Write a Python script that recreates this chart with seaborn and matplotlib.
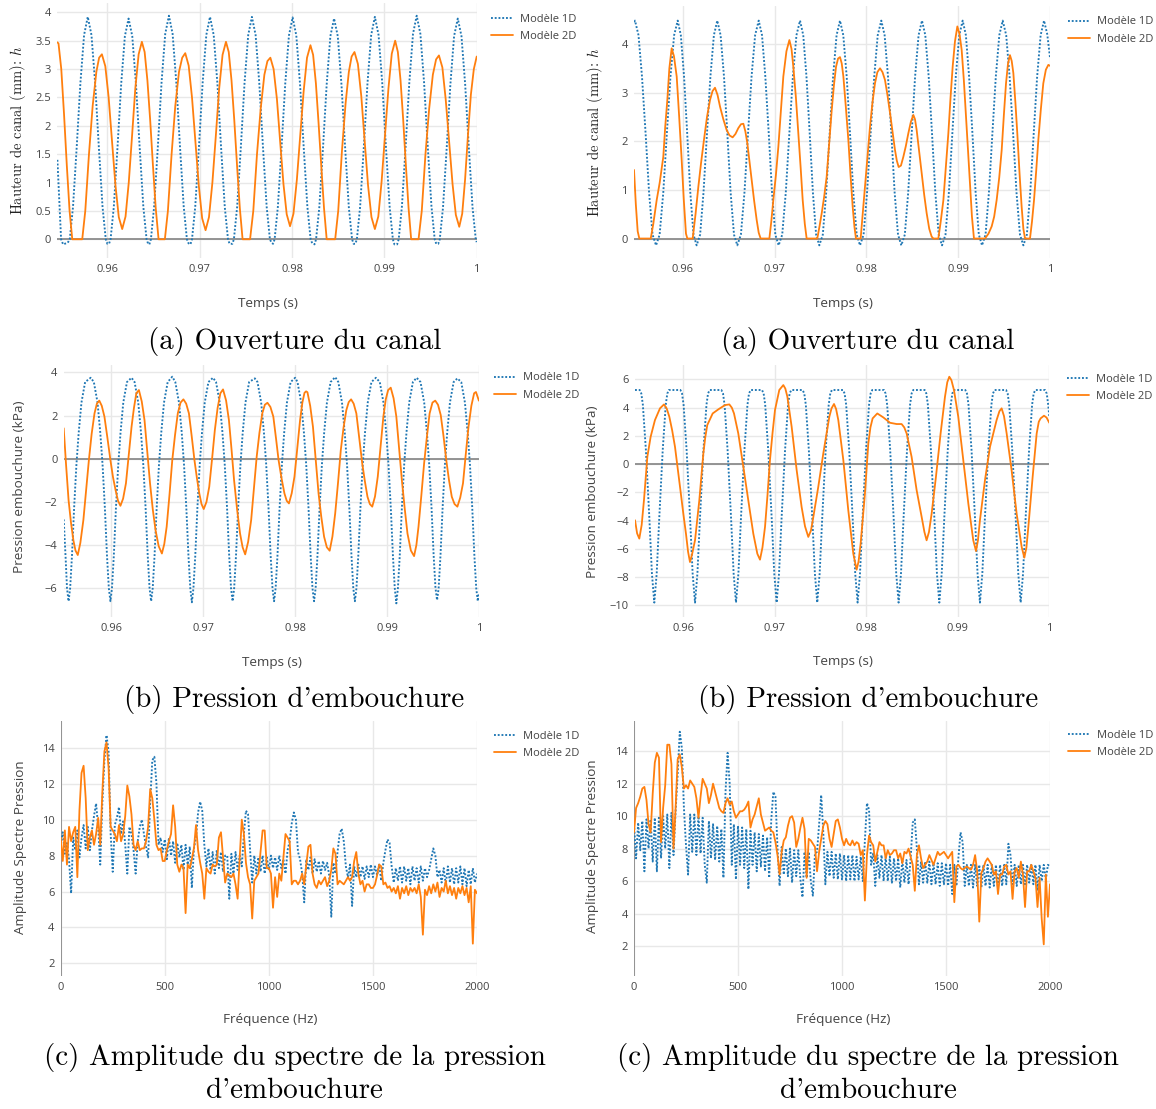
import numpy as np
import matplotlib
matplotlib.use("Agg")
import matplotlib.pyplot as plt
from matplotlib.lines import Line2D
import seaborn as sns

sns.set_style("white")
plt.rcParams['font.family'] = ['Open Sans', 'DejaVu Sans']
plt.rcParams['mathtext.fontset'] = 'cm'

BLUE = '#1f77b4'
ORANGE = '#ff7f0e'
W, H = 1156, 1109

# ---------------------------------------------------------------
# data (temps en ms)
# ---------------------------------------------------------------
# (a) gauche : hauteur de canal (mm)
ouv_1d_g = [
    (954.58, 1.40), (954.98, 0.0), (955.2, -0.09), (955.7, -0.06), (955.92, 0.0),
    (956.27, 0.57), (956.67, 1.62), (957.07, 2.75), (957.47, 3.60), (957.87, 3.92), (958.27, 3.60),
    (958.67, 2.75), (959.07, 1.62), (959.47, 0.57), (959.82, 0.0), (959.99, -0.08),
    (960.17, -0.08), (960.34, 0.0), (960.69, 0.57), (961.09, 1.62), (961.49, 2.74), (961.89, 3.58),
    (962.29, 3.89), (962.69, 3.58), (963.09, 2.74), (963.49, 1.62), (963.89, 0.57), (964.24, 0.0), (964.41, -0.08),
    (964.54, -0.09), (964.71, 0.0), (965.06, 0.58), (965.46, 1.63), (965.86, 2.76), (966.26, 3.62),
    (966.66, 3.94), (967.06, 3.62), (967.46, 2.76), (967.86, 1.63), (968.26, 0.58), (968.61, 0.0), (968.78, -0.07),
    (968.99, -0.09), (969.16, 0.0), (969.51, 0.57), (969.91, 1.62), (970.31, 2.75), (970.71, 3.60),
    (971.11, 3.92), (971.51, 3.60), (971.91, 2.75), (972.31, 1.62), (972.71, 0.57), (973.06, 0.0), (973.23, -0.08),
    (973.53, -0.08), (973.70, 0.0), (974.05, 0.57), (974.45, 1.62), (974.85, 2.75), (975.25, 3.60),
    (975.65, 3.92), (976.05, 3.60), (976.45, 2.75), (976.85, 1.62), (977.25, 0.57), (977.60, 0.0), (977.77, -0.06),
    (977.94, -0.08), (978.11, 0.0), (978.46, 0.57), (978.86, 1.62), (979.26, 2.74), (979.66, 3.59),
    (980.06, 3.91), (980.46, 3.59), (980.86, 2.74), (981.26, 1.62), (981.66, 0.57), (982.01, 0.0), (982.18, -0.07),
    (982.43, -0.09), (982.60, 0.0), (982.95, 0.56), (983.35, 1.61), (983.75, 2.73), (984.15, 3.58),
    (984.55, 3.89), (984.95, 3.58), (985.35, 2.73), (985.75, 1.61), (986.15, 0.56), (986.50, 0.0), (986.67, -0.08),
    (986.85, -0.08), (987.02, 0.0), (987.37, 0.57), (987.77, 1.62), (988.17, 2.75), (988.57, 3.60),
    (988.97, 3.92), (989.37, 3.60), (989.77, 2.75), (990.17, 1.62), (990.57, 0.57), (990.92, 0.0), (991.09, -0.09),
    (991.38, -0.09), (991.55, 0.0), (991.90, 0.58), (992.30, 1.63), (992.70, 2.76), (993.10, 3.62),
    (993.50, 3.94), (993.90, 3.62), (994.30, 2.76), (994.70, 1.63), (995.10, 0.58), (995.45, 0.0), (995.62, -0.08),
    (995.83, -0.08), (996.00, 0.0), (996.35, 0.56), (996.75, 1.61), (997.15, 2.73), (997.55, 3.58),
    (997.95, 3.89), (998.35, 3.58), (998.75, 2.73), (999.15, 1.61), (999.55, 0.56), (999.90, 0.0), (1000.0, -0.05),
]
ouv_2d_g = [
    (954.58, 3.47), (954.70, 3.45), (955.0, 3.0), (955.3, 2.2), (955.6, 1.3), (955.9, 0.5), (956.19, 0.0), (957.27, 0.0),
    (957.6, 0.5), (958.0, 1.5), (958.4, 2.35), (958.8, 2.95), (959.1, 3.2), (959.4, 3.26),
    (959.77, 3.05), (960.13, 2.5), (960.5, 1.72), (960.87, 0.95), (961.23, 0.39), (961.6, 0.18),
    (961.96, 0.4), (962.31, 1.0), (962.67, 1.83), (963.02, 2.66), (963.38, 3.26), (963.73, 3.48),
    (964.03, 3.3), (964.33, 2.8), (964.63, 2.1), (964.93, 1.3), (965.23, 0.55), (965.54, 0.0), (966.22, 0.0),
    (966.55, 0.5), (966.95, 1.5), (967.35, 2.35), (967.75, 2.95), (968.1, 3.2), (968.43, 3.28),
    (968.8, 3.06), (969.16, 2.5), (969.53, 1.72), (969.9, 0.94), (970.26, 0.37), (970.63, 0.16),
    (971.0, 0.39), (971.37, 1.0), (971.74, 1.82), (972.1, 2.65), (972.47, 3.25), (972.84, 3.48),
    (973.14, 3.3), (973.44, 2.8), (973.74, 2.1), (974.04, 1.3), (974.34, 0.55), (974.64, 0.0), (975.45, 0.0),
    (975.8, 0.5), (976.2, 1.5), (976.6, 2.3), (977.0, 2.9), (977.33, 3.14), (977.65, 3.2),
    (978.0, 3.0), (978.36, 2.47), (978.71, 1.72), (979.07, 0.97), (979.42, 0.44), (979.78, 0.23),
    (980.15, 0.45), (980.52, 1.05), (980.88, 1.82), (981.25, 2.6), (981.62, 3.2), (981.99, 3.42),
    (982.28, 3.25), (982.58, 2.75), (982.87, 2.05), (983.16, 1.3), (983.46, 0.55), (983.75, 0.0), (984.67, 0.0),
    (985.0, 0.5), (985.4, 1.55), (985.8, 2.4), (986.15, 2.95), (986.45, 3.22), (986.76, 3.3),
    (987.13, 3.09), (987.5, 2.52), (987.86, 1.74), (988.23, 0.95), (988.6, 0.39), (988.97, 0.18),
    (989.34, 0.4), (989.7, 1.02), (990.07, 1.84), (990.44, 2.66), (990.8, 3.27), (991.17, 3.5),
    (991.46, 3.3), (991.75, 2.8), (992.04, 2.1), (992.33, 1.3), (992.62, 0.55), (992.9, 0.0), (993.7, 0.0),
    (994.05, 0.5), (994.45, 1.5), (994.85, 2.3), (995.25, 2.9), (995.6, 3.17), (995.91, 3.24),
    (996.28, 3.03), (996.64, 2.47), (997.01, 1.73), (997.38, 0.98), (997.74, 0.43), (998.11, 0.22),
    (998.43, 0.45), (998.74, 1.05), (999.06, 1.85), (999.37, 2.55), (999.69, 3.0), (1000.0, 3.22),
]

# (a) droite
ouv_1d_d = [
    (954.70, 4.45), (954.81, 4.48),
    (955.19, 4.18), (955.57, 3.33), (955.96, 2.17), (956.34, 0.95), (956.72, 0.08), (957.10, -0.14),
    (957.49, 0.08), (957.89, 0.95), (958.28, 2.17), (958.67, 3.33), (959.07, 4.18), (959.46, 4.48),
    (959.80, 4.18), (960.15, 3.33), (960.49, 2.17), (960.83, 0.95), (961.18, 0.08), (961.52, -0.14),
    (961.90, 0.08), (962.27, 0.95), (962.65, 2.17), (963.02, 3.33), (963.40, 4.18), (963.77, 4.48),
    (964.13, 4.18), (964.50, 3.33), (964.86, 2.17), (965.22, 0.95), (965.59, 0.08), (965.95, -0.14),
    (966.34, 0.08), (966.73, 0.95), (967.12, 2.17), (967.50, 3.33), (967.89, 4.18), (968.28, 4.48),
    (968.64, 4.18), (969.00, 3.33), (969.37, 2.17), (969.73, 0.95), (970.09, 0.08), (970.45, -0.14),
    (970.84, 0.08), (971.23, 0.95), (971.62, 2.17), (972.00, 3.33), (972.39, 4.18), (972.78, 4.48),
    (973.13, 4.18), (973.48, 3.33), (973.83, 2.17), (974.18, 0.95), (974.53, 0.08), (974.88, -0.14),
    (975.26, 0.08), (975.63, 0.95), (976.01, 2.17), (976.38, 3.33), (976.76, 4.18), (977.13, 4.48),
    (977.49, 4.18), (977.86, 3.33), (978.22, 2.17), (978.58, 0.95), (978.95, 0.08), (979.31, -0.14),
    (979.70, 0.08), (980.08, 0.95), (980.47, 2.17), (980.86, 3.33), (981.24, 4.18), (981.63, 4.48),
    (981.99, 4.18), (982.36, 3.33), (982.72, 2.17), (983.08, 0.95), (983.45, 0.08), (983.81, -0.14),
    (984.19, 0.08), (984.56, 0.95), (984.94, 2.17), (985.31, 3.33), (985.69, 4.18), (986.06, 4.48),
    (986.42, 4.18), (986.79, 3.33), (987.15, 2.17), (987.51, 0.95), (987.88, 0.08), (988.24, -0.14),
    (988.62, 0.08), (988.99, 0.95), (989.37, 2.17), (989.74, 3.33), (990.12, 4.18), (990.49, 4.48),
    (990.84, 4.18), (991.19, 3.33), (991.55, 2.17), (991.90, 0.95), (992.25, 0.08), (992.60, -0.14),
    (992.98, 0.08), (993.35, 0.95), (993.73, 2.17), (994.10, 3.33), (994.48, 4.18), (994.85, 4.48),
    (995.23, 4.18), (995.60, 3.33), (995.98, 2.17), (996.35, 0.95), (996.73, 0.08), (997.10, -0.14),
    (997.48, 0.08), (997.85, 0.95), (998.23, 2.17), (998.60, 3.33), (998.98, 4.18), (999.35, 4.48),
    (999.70, 4.2), (1000.0, 3.72),
]
ouv_2d_d = [
    (954.70, 1.41), (954.9, 0.7), (955.1, 0.15), (955.28, 0.0), (956.52, 0.0), (956.8, 0.3), (957.17, 0.79),
    (957.5, 1.15), (957.89, 1.68), (958.1, 2.3), (958.33, 2.85), (958.55, 3.5), (958.80, 3.91), (959.05, 3.75),
    (959.35, 3.33), (959.62, 2.5), (959.89, 1.62), (960.12, 0.8), (960.36, 0.1), (960.51, 0.0), (961.09, 0.0),
    (961.4, 0.5), (961.71, 1.07), (962.0, 1.55), (962.32, 2.03), (962.65, 2.5), (962.98, 2.85), (963.25, 3.03),
    (963.52, 3.10), (963.8, 2.95), (964.07, 2.71), (964.43, 2.45), (964.79, 2.23), (965.1, 2.12), (965.44, 2.08),
    (965.75, 2.15), (966.06, 2.27), (966.35, 2.35), (966.61, 2.36), (966.83, 2.2), (967.04, 1.96), (967.27, 1.6),
    (967.51, 1.21), (967.78, 0.78), (968.06, 0.38), (968.28, 0.12), (968.49, 0.0), (969.44, 0.0), (969.65, 0.35),
    (969.87, 0.79), (970.15, 1.3), (970.42, 1.89), (970.7, 2.65), (970.96, 3.33), (971.3, 3.85), (971.62, 4.08),
    (971.85, 3.9), (972.05, 3.53), (972.33, 2.9), (972.60, 2.16), (972.85, 1.45), (973.07, 0.79), (973.3, 0.3),
    (973.50, 0.0), (974.66, 0.0), (974.9, 0.25), (975.14, 0.52), (975.4, 0.85), (975.68, 1.27), (975.95, 1.95),
    (976.23, 2.64), (976.47, 3.15), (976.70, 3.53), (976.92, 3.7), (977.13, 3.73), (977.32, 3.6), (977.50, 3.33),
    (977.77, 2.7), (978.04, 2.03), (978.28, 1.3), (978.51, 0.66), (978.7, 0.25), (978.87, 0.0), (979.38, 0.0),
    (979.6, 0.5), (979.85, 1.07), (980.12, 1.7), (980.40, 2.30), (980.67, 2.8), (980.94, 3.19), (981.2, 3.42),
    (981.49, 3.50), (981.76, 3.42), (982.03, 3.26), (982.3, 2.95), (982.58, 2.58), (982.85, 2.2), (983.12, 1.82),
    (983.32, 1.6), (983.52, 1.47), (983.77, 1.5), (984.03, 1.68), (984.3, 1.9), (984.57, 2.16), (984.85, 2.4),
    (985.12, 2.54), (985.3, 2.45), (985.48, 2.23), (985.75, 1.8), (986.03, 1.34), (986.3, 0.9), (986.57, 0.52),
    (986.85, 0.2), (987.11, 0.04), (987.30, 0.0), (987.84, 0.0), (988.1, 0.35), (988.39, 0.79), (988.65, 1.45),
    (988.93, 2.16), (989.17, 2.9), (989.40, 3.53), (989.65, 4.05), (989.91, 4.36), (990.15, 4.2), (990.38, 3.88),
    (990.62, 3.25), (990.85, 2.51), (991.07, 1.78), (991.29, 1.07), (991.5, 0.45), (991.72, 0.0), (992.92, 0.0),
    (993.3, 0.1), (993.65, 0.25), (993.92, 0.45), (994.19, 0.79), (994.47, 1.25), (994.74, 1.82), (994.98, 2.55),
    (995.21, 3.19), (995.43, 3.6), (995.64, 3.77), (995.83, 3.65), (996.01, 3.40), (996.23, 2.8), (996.44, 2.16),
    (996.68, 1.35), (996.91, 0.66), (997.1, 0.2), (997.28, 0.0), (997.82, 0.0), (998.04, 0.35), (998.26, 0.79),
    (998.5, 1.4), (998.73, 2.03), (999.0, 2.65), (999.27, 3.19), (999.55, 3.47), (999.82, 3.57), (1000.0, 3.55),
]

# (b) gauche : pression d'embouchure (kPa)
pres_1d_g = [
    (954.84, -2.81), (955.05, -4.6), (955.2, -6.0), (955.37, -6.6),
    (955.54, -6.0), (955.74, -4.5), (955.97, -2.3), (956.22, -0.3), (956.47, 1.2), (956.77, 2.6), (957.17, 3.55),
    (957.78, 3.75), (958.12, 3.55), (958.52, 2.6), (958.82, 1.2), (959.07, -0.3), (959.32, -2.3), (959.55, -4.5),
    (959.75, -6.0), (959.92, -6.6),
    (960.09, -6.0), (960.29, -4.5), (960.52, -2.3), (960.77, -0.3), (961.02, 1.2), (961.32, 2.6), (961.72, 3.55),
    (962.22, 3.75), (962.55, 3.55), (962.95, 2.6), (963.25, 1.2), (963.50, -0.3), (963.75, -2.3), (963.98, -4.5),
    (964.18, -6.0), (964.35, -6.6),
    (964.52, -6.0), (964.72, -4.5), (964.95, -2.3), (965.20, -0.3), (965.45, 1.2), (965.75, 2.6), (966.15, 3.55),
    (966.65, 3.8), (966.98, 3.55), (967.38, 2.6), (967.68, 1.2), (967.93, -0.3), (968.18, -2.3), (968.41, -4.5),
    (968.61, -6.0), (968.78, -6.65),
    (968.95, -6.0), (969.15, -4.5), (969.38, -2.3), (969.63, -0.3), (969.88, 1.2), (970.18, 2.6), (970.58, 3.55),
    (971.08, 3.75), (971.41, 3.55), (971.81, 2.6), (972.11, 1.2), (972.36, -0.3), (972.61, -2.3), (972.84, -4.5),
    (973.04, -6.0), (973.21, -6.6),
    (973.38, -6.0), (973.58, -4.5), (973.81, -2.3), (974.06, -0.3), (974.31, 1.2), (974.61, 2.6), (975.01, 3.55),
    (975.63, 3.72), (975.92, 3.55), (976.32, 2.6), (976.62, 1.2), (976.87, -0.3), (977.12, -2.3), (977.35, -4.5),
    (977.55, -6.0), (977.72, -6.6),
    (977.89, -6.0), (978.09, -4.5), (978.32, -2.3), (978.57, -0.3), (978.82, 1.2), (979.12, 2.6), (979.52, 3.55),
    (980.02, 3.75), (980.27, 3.55), (980.67, 2.6), (980.97, 1.2), (981.22, -0.3), (981.47, -2.3), (981.70, -4.5),
    (981.90, -6.0), (982.07, -6.6),
    (982.24, -6.0), (982.44, -4.5), (982.67, -2.3), (982.92, -0.3), (983.17, 1.2), (983.47, 2.6), (983.87, 3.55),
    (984.37, 3.78), (984.71, 3.55), (985.11, 2.6), (985.41, 1.2), (985.66, -0.3), (985.91, -2.3), (986.14, -4.5),
    (986.34, -6.0), (986.51, -6.6),
    (986.68, -6.0), (986.88, -4.5), (987.11, -2.3), (987.36, -0.3), (987.61, 1.2), (987.91, 2.6), (988.31, 3.55),
    (988.80, 3.75), (989.22, 3.55), (989.62, 2.6), (989.92, 1.2), (990.17, -0.3), (990.42, -2.3), (990.65, -4.5),
    (990.85, -6.0), (991.02, -6.7),
    (991.19, -6.0), (991.39, -4.5), (991.62, -2.3), (991.87, -0.3), (992.12, 1.2), (992.42, 2.6), (992.82, 3.55),
    (993.23, 3.75), (993.65, 3.55), (994.05, 2.6), (994.35, 1.2), (994.60, -0.3), (994.85, -2.3), (995.08, -4.5),
    (995.28, -6.0), (995.45, -6.55),
    (995.62, -6.0), (995.82, -4.5), (996.05, -2.3), (996.30, -0.3), (996.55, 1.2), (996.85, 2.6), (997.25, 3.55),
    (997.66, 3.72), (998.08, 3.55), (998.48, 2.6), (998.78, 1.2), (999.03, -0.3), (999.28, -2.3), (999.51, -4.5),
    (999.71, -6.0), (999.88, -6.6), (1000.0, -6.2),
]
pres_2d_g = [
    (954.84, 1.41), (955.1, -0.3), (955.37, -1.92), (955.63, -2.95), (955.89, -3.77), (956.12, -4.25), (956.37, -4.46),
    (956.65, -3.9), (956.98, -2.84), (957.28, -1.45), (957.58, -0.06), (957.88, 1.15), (958.19, 2.10), (958.45, 2.55),
    (958.71, 2.69), (958.98, 2.45), (959.27, 1.95), (959.6, 0.95), (959.92, -0.06), (960.2, -0.85), (960.48, -1.45),
    (960.75, -1.95), (961.01, -2.18), (961.3, -1.85), (961.61, -1.14), (961.92, 0.2), (962.22, 1.48), (962.48, 2.35),
    (962.74, 3.03), (963.02, 3.18), (963.33, 2.65), (963.63, 1.79), (963.93, 0.35), (964.23, -1.14), (964.53, -2.35),
    (964.83, -3.31), (965.17, -4.05), (965.52, -4.39), (965.78, -3.95), (966.04, -3.15), (966.35, -1.65), (966.65, -0.06),
    (966.95, 1.1), (967.25, 2.10), (967.55, 2.6), (967.86, 2.75), (968.16, 2.55), (968.46, 2.10), (968.76, 1.05),
    (969.06, -0.06), (969.33, -0.9), (969.59, -1.61), (969.83, -2.1), (970.07, -2.33), (970.37, -2.0), (970.67, -1.30),
    (970.98, 0.0), (971.28, 1.33), (971.58, 2.35), (971.88, 3.03), (972.17, 3.21), (972.5, 2.7), (972.81, 1.79),
    (973.09, 0.45), (973.37, -0.99), (973.7, -2.35), (974.02, -3.46), (974.3, -4.1), (974.58, -4.43), (974.9, -3.85),
    (975.23, -2.84), (975.53, -1.4), (975.83, 0.09), (976.13, 1.2), (976.44, 2.10), (976.72, 2.5), (977.0, 2.59),
    (977.32, 2.4), (977.64, 1.95), (977.93, 0.95), (978.21, -0.06), (978.53, -0.9), (978.85, -1.61), (979.1, -1.95),
    (979.34, -2.07), (979.64, -1.6), (979.94, -0.83), (980.25, 0.5), (980.55, 1.79), (980.8, 2.6), (981.03, 3.05),
    (981.2, 3.12), (981.35, 3.08), (981.65, 2.45), (981.95, 1.48), (982.25, -0.05), (982.56, -1.61), (982.86, -2.7),
    (983.16, -3.61), (983.46, -4.1), (983.77, -4.26), (984.07, -3.6), (984.37, -2.53), (984.68, -1.1), (984.98, 0.40),
    (985.28, 1.45), (985.58, 2.25), (985.84, 2.62), (986.1, 2.75), (986.38, 2.55), (986.67, 2.10), (986.99, 0.95),
    (987.31, -0.22), (987.6, -1.05), (987.88, -1.76), (988.14, -2.1), (988.4, -2.22), (988.7, -1.75), (989.0, -0.83),
    (989.3, 0.55), (989.61, 1.95), (989.87, 2.75), (990.13, 3.18), (990.41, 3.29), (990.72, 2.8), (991.02, 1.95),
    (991.32, 0.5), (991.62, -0.99), (991.93, -2.3), (992.23, -3.46), (992.6, -4.25), (992.95, -4.51), (993.2, -4.0),
    (993.43, -3.15), (993.74, -1.7), (994.04, -0.22), (994.34, 1.0), (994.64, 2.10), (994.95, 2.6), (995.25, 2.69),
    (995.55, 2.5), (995.85, 2.02), (996.15, 1.05), (996.45, -0.06), (996.75, -1.0), (997.05, -1.76), (997.35, -2.1),
    (997.66, -2.22), (997.97, -1.8), (998.27, -1.14), (998.57, 0.2), (998.87, 1.48), (999.18, 2.45), (999.48, 3.03),
    (999.68, 3.09), (1000.0, 2.69),
]

# (b) droite
pres_1d_d = [
    (954.72, 5.25), (955.05, 5.25), (955.23, 5.25), (955.41, 5.0), (955.58, 4.2), (955.91, 1.0), (956.28, -3.7),
    (956.57, -7.75), (956.83, -9.8),
    (957.09, -7.75), (957.38, -3.7), (957.75, 1.0), (958.08, 4.2), (958.25, 5.0), (958.43, 5.25), (959.68, 5.25),
    (959.86, 5.0), (960.03, 4.2), (960.36, 1.0), (960.73, -3.7), (961.02, -7.75), (961.28, -9.8),
    (961.54, -7.75), (961.83, -3.7), (962.20, 1.0), (962.53, 4.2), (962.70, 5.0), (962.88, 5.25), (964.16, 5.25),
    (964.34, 5.0), (964.51, 4.2), (964.84, 1.0), (965.21, -3.7), (965.50, -7.75), (965.76, -9.8),
    (966.02, -7.75), (966.31, -3.7), (966.68, 1.0), (967.01, 4.2), (967.18, 5.0), (967.36, 5.25), (968.60, 5.25),
    (968.78, 5.0), (968.95, 4.2), (969.28, 1.0), (969.65, -3.7), (969.94, -7.75), (970.20, -9.8),
    (970.46, -7.75), (970.75, -3.7), (971.12, 1.0), (971.45, 4.2), (971.62, 5.0), (971.80, 5.25), (973.04, 5.25),
    (973.22, 5.0), (973.39, 4.2), (973.72, 1.0), (974.09, -3.7), (974.38, -7.75), (974.64, -9.8),
    (974.90, -7.75), (975.19, -3.7), (975.56, 1.0), (975.89, 4.2), (976.06, 5.0), (976.24, 5.25), (977.45, 5.25),
    (977.63, 5.0), (977.80, 4.2), (978.13, 1.0), (978.50, -3.7), (978.79, -7.75), (979.05, -9.8),
    (979.31, -7.75), (979.60, -3.7), (979.97, 1.0), (980.30, 4.2), (980.47, 5.0), (980.65, 5.25), (981.93, 5.25),
    (982.11, 5.0), (982.28, 4.2), (982.61, 1.0), (982.98, -3.7), (983.27, -7.75), (983.53, -9.8),
    (983.79, -7.75), (984.08, -3.7), (984.45, 1.0), (984.78, 4.2), (984.95, 5.0), (985.13, 5.25), (986.38, 5.25),
    (986.56, 5.0), (986.73, 4.2), (987.06, 1.0), (987.43, -3.7), (987.72, -7.75), (987.98, -9.8),
    (988.24, -7.75), (988.53, -3.7), (988.90, 1.0), (989.23, 4.2), (989.40, 5.0), (989.58, 5.25), (990.82, 5.25),
    (991.00, 5.0), (991.17, 4.2), (991.50, 1.0), (991.87, -3.7), (992.16, -7.75), (992.42, -9.8),
    (992.68, -7.75), (992.97, -3.7), (993.34, 1.0), (993.67, 4.2), (993.84, 5.0), (994.02, 5.25), (995.27, 5.25),
    (995.45, 5.0), (995.62, 4.2), (995.95, 1.0), (996.32, -3.7), (996.61, -7.75), (996.87, -9.8),
    (997.13, -7.75), (997.42, -3.7), (997.79, 1.0), (998.12, 4.2), (998.29, 5.0), (998.47, 5.25), (999.53, 5.25),
    (999.72, 5.0), (999.88, 4.2), (1000.0, 3.4),
]
pres_2d_d = [
    (954.72, -3.97), (954.95, -4.9), (955.19, -5.27), (955.45, -4.3), (955.70, -2.55), (956.07, 0.52), (956.43, 1.94),
    (956.90, 3.12), (957.45, 3.95), (957.89, 4.23), (958.18, 3.95), (958.47, 3.36), (958.78, 2.4), (959.09, 1.23),
    (959.64, -1.61), (960.0, -3.5), (960.29, -4.92), (960.52, -6.2), (960.73, -6.93), (960.95, -6.4), (961.28, -5.39),
    (961.75, -2.55), (962.19, 0.76), (962.40, 1.9), (962.62, 2.77), (963.21, 3.59), (963.83, 3.88), (964.55, 4.18),
    (965.03, 4.23), (965.3, 4.0), (965.54, 3.59), (966.01, 2.17), (966.56, -0.19), (967.10, -2.55), (967.65, -4.92),
    (968.09, -6.34), (968.38, -6.76), (968.65, -5.9), (968.93, -4.44), (969.2, -2.2), (969.47, 0.28), (969.75, 2.2),
    (970.02, 3.83), (970.49, 5.25), (970.93, 5.60), (971.15, 5.35), (971.37, 4.78), (971.84, 2.65), (972.39, -0.43),
    (972.93, -3.03), (973.3, -4.4), (973.66, -5.15), (973.95, -4.7), (974.21, -3.74), (974.75, -1.61), (975.30, 0.76),
    (975.96, 3.36), (976.2, 3.95), (976.47, 4.26), (976.7, 3.9), (976.94, 3.12), (977.49, 0.28), (978.03, -3.26),
    (978.58, -6.34), (978.94, -7.47), (979.15, -6.9), (979.38, -5.63), (979.85, -2.08), (980.22, 1.47), (980.45, 2.6),
    (980.69, 3.24), (981.20, 3.59), (981.86, 3.31), (982.59, 2.93), (983.32, 2.84), (983.86, 2.84), (984.15, 2.6),
    (984.41, 2.17), (984.95, 0.52), (985.50, -1.84), (986.05, -3.74), (986.35, -4.8), (986.59, -5.39), (986.85, -4.8),
    (987.14, -3.50), (987.61, -0.90), (988.12, 2.17), (988.60, 4.78), (988.85, 5.8), (989.07, 6.19), (989.3, 5.95),
    (989.58, 5.25), (990.05, 3.36), (990.60, 0.28), (991.15, -2.79), (991.69, -5.39), (991.99, -6.15), (992.2, -5.4),
    (992.42, -3.97), (992.97, -1.13), (993.52, 1.23), (994.24, 3.12), (994.55, 3.75), (994.79, 3.95), (995.05, 3.4),
    (995.34, 2.17), (995.88, -0.43), (996.43, -3.50), (996.98, -5.86), (997.27, -6.62), (997.5, -5.9), (997.71, -4.44),
    (998.18, -0.90), (998.62, 2.17), (998.85, 3.0), (999.05, 3.24), (999.42, 3.43), (999.7, 3.3), (1000.0, 2.93),
]

# (c) amplitude du spectre, pas de 10 Hz de 0 a 2000 Hz
freq_hz = np.arange(0, 2001, 10)
spec_1d_g = [
    8.6, 9.3, 8.1, 8.7, 7.8, 5.9, 9.0, 8.3, 9.4, 7.9,
    9.0, 9.7, 8.4, 9.6, 8.3, 9.4, 10.2, 10.9, 9.6, 7.5,
    10.9, 13.3, 14.7, 13.8, 9.2, 7.1, 9.7, 10.1, 10.7, 9.2,
    9.9, 8.6, 7.0, 9.6, 9.2, 8.3, 7.0, 8.8, 9.6, 10.0,
    9.2, 8.5, 7.9, 11.0, 13.3, 13.5, 12.0, 8.6, 9.0, 8.2,
    8.9, 7.8, 9.0, 8.0, 8.8, 7.6, 8.7, 7.9, 8.6, 7.2,
    8.6, 7.5, 8.5, 6.2, 8.4, 9.0, 10.4, 11.0, 10.5, 8.6,
    7.4, 8.4, 7.2, 8.2, 7.0, 8.3, 7.3, 8.2, 7.1, 8.0,
    8.0, 5.6, 8.1, 7.0, 8.2, 7.2, 8.0, 7.4, 9.2, 10.5,
    10.3, 8.3, 6.5, 8.0, 7.0, 7.9, 7.1, 8.0, 7.0, 7.9,
    7.2, 8.0, 7.3, 7.9, 7.2, 8.0, 7.3, 7.8, 7.0, 8.3,
    8.8, 9.8, 10.4, 10.0, 8.2, 7.8, 7.0, 5.4, 7.8, 7.2,
    7.9, 7.0, 7.8, 7.1, 7.7, 7.0, 7.7, 7.2, 7.6, 6.9,
    4.6, 7.6, 7.0, 8.2, 9.2, 9.5, 8.8, 7.4, 6.8, 7.5,
    5.2, 7.4, 6.8, 7.5, 6.8, 7.4, 6.7, 7.4, 6.8, 7.5,
    6.8, 7.4, 6.9, 7.5, 6.6, 7.6, 8.3, 8.9, 8.7, 7.4,
    6.5, 7.3, 6.6, 7.4, 6.5, 7.4, 6.6, 7.3, 6.4, 7.4,
    6.6, 7.3, 6.5, 7.4, 6.6, 7.3, 6.8, 7.2, 7.8, 8.4,
    8.0, 6.8, 7.2, 6.5, 7.3, 6.4, 7.4, 6.5, 7.3, 6.4,
    7.3, 6.5, 7.4, 6.4, 7.3, 6.3, 7.2, 6.4, 7.3, 6.5,
    7.0,
]
spec_2d_g = [
    9.0, 7.7, 9.4, 7.5, 9.6, 8.8, 9.3, 9.6, 6.8, 10.5,
    12.6, 13.0, 11.2, 8.3, 9.0, 9.4, 8.6, 9.2, 10.1, 8.6,
    11.5, 13.8, 14.3, 12.9, 9.6, 9.4, 9.2, 8.8, 9.7, 8.8,
    9.2, 10.2, 11.9, 11.3, 10.3, 8.6, 8.3, 8.8, 8.3, 8.4,
    8.4, 8.8, 9.6, 11.7, 11.2, 10.0, 8.6, 8.3, 8.4, 7.7,
    7.7, 8.3, 8.8, 9.2, 10.8, 9.6, 7.5, 7.1, 7.5, 7.3,
    4.8, 7.5, 7.3, 7.8, 8.4, 9.7, 8.3, 7.6, 7.0, 5.6,
    7.3, 7.1, 7.0, 7.5, 7.4, 7.5, 9.0, 9.3, 7.9, 6.5,
    7.0, 6.9, 6.8, 7.0, 6.4, 5.6, 7.9, 10.0, 9.2, 7.6,
    6.8, 6.4, 4.5, 6.6, 6.8, 7.0, 8.2, 9.4, 9.4, 7.3,
    7.3, 7.0, 5.1, 6.8, 5.7, 7.0, 6.6, 7.9, 9.2, 9.0,
    8.8, 6.4, 6.6, 6.6, 6.4, 6.6, 7.0, 6.4, 7.5, 8.5,
    8.6, 7.0, 6.4, 6.2, 6.6, 6.4, 6.6, 6.8, 6.3, 6.6,
    7.2, 8.4, 8.1, 6.4, 6.6, 6.5, 6.4, 6.6, 6.8, 6.6,
    6.8, 7.7, 8.2, 7.0, 6.4, 6.6, 6.0, 6.4, 6.4, 6.2,
    6.2, 6.4, 6.9, 7.5, 7.4, 6.4, 6.5, 6.2, 6.3, 6.0,
    6.2, 5.9, 6.3, 5.6, 6.2, 5.9, 6.3, 5.8, 6.2, 6.0,
    6.2, 5.9, 6.4, 5.7, 3.6, 6.1, 5.8, 6.3, 5.9, 6.4,
    6.0, 6.5, 5.7, 6.2, 6.0, 6.6, 5.9, 6.3, 5.8, 6.2,
    5.6, 6.2, 5.9, 6.3, 5.8, 6.2, 5.4, 6.3, 3.1, 6.1,
    5.9,
]
spec_1d_d = [
    9.5, 7.4, 9.6, 7.9, 9.7, 6.6, 9.8, 8.0, 9.8, 7.2,
    9.9, 6.6, 10.0, 7.4, 10.0, 8.0, 10.1, 6.8, 10.2, 7.6,
    10.3, 12.6, 15.2, 14.2, 10.5, 8.2, 6.4, 10.1, 7.8, 10.1,
    7.6, 10.0, 7.7, 9.9, 7.0, 5.9, 9.7, 7.4, 9.5, 7.3,
    9.4, 7.2, 9.2, 6.2, 11.5, 13.9, 12.0, 7.0, 9.5, 6.1,
    9.4, 7.0, 9.3, 6.8, 9.2, 5.5, 9.1, 7.0, 9.0, 6.6,
    8.9, 6.9, 8.8, 6.6, 8.7, 6.2, 9.8, 11.5, 11.2, 8.0,
    5.7, 8.1, 6.4, 8.0, 6.3, 8.0, 5.9, 7.9, 6.3, 7.9,
    6.1, 5.0, 7.8, 6.2, 7.8, 6.0, 5.1, 7.7, 7.8, 9.5,
    11.3, 9.0, 5.8, 7.8, 6.3, 7.8, 6.2, 7.7, 6.1, 7.7,
    6.1, 7.6, 6.0, 7.6, 6.1, 7.6, 6.0, 7.5, 6.1, 7.5,
    6.0, 8.5, 10.8, 10.4, 7.0, 7.7, 5.7, 7.6, 6.2, 7.6,
    6.0, 7.5, 6.0, 7.5, 5.9, 7.4, 6.0, 7.4, 5.6, 7.3,
    5.9, 7.3, 5.8, 7.4, 9.6, 9.8, 8.0, 5.8, 7.2, 5.9,
    7.2, 5.9, 7.2, 5.8, 7.1, 5.8, 7.1, 5.7, 7.1, 5.8,
    7.1, 5.7, 7.0, 5.2, 7.0, 5.7, 7.5, 9.0, 8.4, 5.7,
    7.0, 5.7, 7.0, 5.6, 7.0, 5.7, 7.0, 5.6, 7.0, 5.7,
    7.0, 5.6, 7.0, 5.7, 7.0, 5.6, 7.0, 5.7, 7.0, 5.8,
    8.3, 7.6, 5.8, 7.0, 5.7, 7.0, 5.8, 7.0, 5.8, 7.0,
    5.9, 7.0, 5.8, 7.0, 5.4, 7.0, 6.0, 7.0, 6.1, 7.0,
    6.9,
]
spec_2d_d = [
    9.0, 10.5, 10.8, 11.2, 11.7, 11.8, 11.0, 9.5, 9.0, 11.4,
    13.3, 13.9, 13.6, 8.4, 10.5, 11.9, 14.4, 14.4, 13.2, 8.0,
    10.5, 13.5, 13.8, 13.0, 11.7, 11.9, 11.7, 12.2, 12.0, 11.8,
    11.1, 9.9, 11.2, 12.3, 12.0, 11.7, 10.8, 11.3, 12.0, 11.5,
    11.0, 10.5, 10.3, 10.2, 10.8, 11.1, 10.7, 10.9, 10.3, 9.9,
    10.1, 10.3, 10.3, 10.4, 10.6, 10.9, 9.3, 9.8, 10.1, 10.6,
    11.1, 10.1, 9.6, 9.1, 9.2, 9.3, 9.1, 9.0, 8.4, 7.6,
    6.4, 7.8, 8.5, 8.7, 9.4, 9.9, 10.0, 9.6, 8.1, 8.6,
    9.3, 9.9, 9.2, 6.2, 8.6, 8.5, 8.3, 8.1, 6.6, 7.8,
    8.6, 9.4, 9.7, 9.5, 8.6, 8.1, 8.9, 9.7, 9.8, 9.3,
    8.6, 8.2, 8.6, 8.3, 8.2, 8.5, 8.2, 8.4, 8.3, 7.6,
    7.9, 4.8, 7.6, 8.8, 8.4, 8.2, 7.2, 7.8, 8.4, 8.2,
    8.2, 7.4, 7.9, 7.6, 7.7, 7.9, 7.9, 7.4, 7.7, 7.1,
    7.8, 7.7, 8.0, 7.5, 7.0, 5.4, 7.6, 8.2, 7.4, 6.8,
    7.0, 7.2, 7.6, 7.3, 7.0, 7.4, 7.8, 7.6, 7.7, 7.8,
    7.6, 7.4, 7.6, 7.8, 4.7, 6.9, 7.0, 6.8, 6.7, 6.8,
    6.9, 6.8, 6.7, 7.0, 7.6, 6.6, 3.5, 6.5, 6.8, 7.2,
    7.4, 7.2, 7.0, 6.4, 6.6, 5.2, 6.4, 6.4, 6.9, 7.0,
    6.4, 6.6, 4.9, 6.6, 6.8, 6.2, 7.2, 6.4, 4.4, 6.6,
    6.6, 7.0, 6.6, 6.2, 4.4, 6.2, 3.7, 2.1, 6.4, 3.8,
    5.8,
]

legend_labels = ['Modèle 1D', 'Modèle 2D']
captions = [
    ['(a) Ouverture du canal'],
    ['(b) Pression d\'embouchure'],
    ['(c) Amplitude du spectre de la pression', 'd\'embouchure'],
]

# ---------------------------------------------------------------
fig = plt.figure(figsize=(W / 100, H / 100), dpi=100)


def add_panel(l, t, r, b):
    return fig.add_axes([l / W, 1 - b / H, (r - l) / W, (b - t) / H])


def draw(ax, x, y, model):
    if model == '1D':
        sns.lineplot(x=x, y=y, ax=ax, color=BLUE, linewidth=1.35, linestyle=(0, (1, 1)),
                     estimator=None, sort=False, zorder=3)
    else:
        sns.lineplot(x=x, y=y, ax=ax, color=ORANGE, linewidth=1.3,
                     estimator=None, sort=False, zorder=4)


def style(ax, xlim, ylim, xticks, xlabels, yticks, ylabels, zero='h'):
    ax.set_xlim(xlim)
    ax.set_ylim(ylim)
    ax.set_xticks(xticks)
    ax.set_xticklabels(xlabels)
    ax.set_yticks(yticks)
    ax.set_yticklabels(ylabels)
    ax.grid(True, color='#e8e8e8', lw=1.0)
    ax.set_axisbelow(True)
    for s in ax.spines.values():
        s.set_visible(False)
    ax.tick_params(length=3, width=0.8, color='#999999', labelsize=8,
                   labelcolor='#444444', pad=1.5)
    if zero == 'h':
        ax.axhline(0, color='#8c8c8c', lw=1.3, zorder=2)
    else:
        ax.axvline(0, color='#8c8c8c', lw=1.3, zorder=2)
    ax.set_xlabel('')
    ax.set_ylabel('')


def legend(ax, x, y):
    handles = [Line2D([], [], color=BLUE, lw=1.35, linestyle=(0, (1, 1))),
               Line2D([], [], color=ORANGE, lw=1.3)]
    ax.legend(handles, legend_labels, loc='upper left', bbox_to_anchor=(x / W, 1 - y / H),
              bbox_transform=fig.transFigure, frameon=False, fontsize=8, handlelength=2.0,
              handletextpad=0.6, labelspacing=0.55, borderpad=0, borderaxespad=0,
              labelcolor='#444444')


def label(x, y, s, rot=0, **kw):
    kw.setdefault('size', 9.7)
    kw.setdefault('color', '#444444')
    fig.text(x / W, 1 - y / H, s, rotation=rot, ha='center', va='center', **kw)


def series(pairs):
    a = np.array(pairs)
    return a[:, 0] / 1000.0, a[:, 1]


t_ticks = [0.96, 0.97, 0.98, 0.99, 1.0]
t_labels = ['0.96', '0.97', '0.98', '0.99', '1']
f_ticks = [0, 500, 1000, 1500, 2000]
f_labels = ['0', '500', '1000', '1500', '2000']
MINUS = '\u2212'

# --- (a) ouverture
panels_a = [((57.4, 3, 476.7, 258), ouv_1d_g, ouv_2d_g, (-0.33, 4.164),
             [0, 0.5, 1, 1.5, 2, 2.5, 3, 3.5, 4], ['0', '0.5', '1', '1.5', '2', '2.5', '3', '3.5', '4'],
             (491, 13.5), (268, 303.3), (17.8, 130)),
            ((634, 6, 1050, 258), ouv_1d_d, ouv_2d_d, (-0.40, 4.78),
             [0, 1, 2, 3, 4], ['0', '1', '2', '3', '4'],
             (1068, 16.5), (842.6, 304), (594.6, 132))]
for box, d1, d2, ylim, yt, yl, leg, xl, yla in panels_a:
    ax = add_panel(*box)
    t1, v1 = series(d1)
    t2, v2 = series(d2)
    draw(ax, t1, v1, '1D')
    draw(ax, t2, v2, '2D')
    style(ax, (t1[0], 1.0), ylim, t_ticks, t_labels, yt, yl)
    legend(ax, *leg)
    label(*xl, 'Temps (s)')
    label(*yla, r'Hauteur de canal (mm): $h$', rot=90, family=['cmr10'], size=10.5, color='#222222')

# --- (b) pression
panels_b = [((63.7, 365, 478.9, 617), pres_1d_g, pres_2d_g, (-7.33, 4.34),
             [-6, -4, -2, 0, 2, 4], (494, 372.5), (271.5, 662.7), (19.3, 486.7)),
            ((635, 365, 1049.3, 617), pres_1d_d, pres_2d_d, (-10.82, 7.02),
             [-10, -8, -6, -4, -2, 0, 2, 4, 6], (1067, 373.8), (842.6, 661), (592, 491.7))]
for box, d1, d2, ylim, yt, leg, xl, yla in panels_b:
    ax = add_panel(*box)
    t1, v1 = series(d1)
    t2, v2 = series(d2)
    draw(ax, t1, v1, '1D')
    draw(ax, t2, v2, '2D')
    yl = [str(v).replace('-', MINUS) for v in yt]
    style(ax, (t1[0], 1.0), ylim, t_ticks, t_labels, yt, yl)
    legend(ax, *leg)
    label(*xl, 'Temps (s)')
    label(*yla, 'Pression embouchure (kPa)', rot=90)

# --- (c) spectre
panels_c = [((60.7, 721, 477, 976), spec_1d_g, spec_2d_g, (1.30, 15.49),
             (494, 730.8), (270.2, 1020), (20.4, 846.7)),
            ((634, 720.7, 1050, 976), spec_1d_d, spec_2d_d, (0.15, 15.88),
             (1068, 729.8), (843, 1019), (592.8, 846))]
for box, d1, d2, ylim, leg, xl, yla in panels_c:
    ax = add_panel(*box)
    draw(ax, freq_hz, np.array(d1), '1D')
    draw(ax, freq_hz, np.array(d2), '2D')
    yt = [2, 4, 6, 8, 10, 12, 14]
    style(ax, (0, 2000), ylim, f_ticks, f_labels, yt, [str(v) for v in yt], zero='v')
    legend(ax, *leg)
    label(*xl, 'Fréquence (Hz)')
    label(*yla, 'Amplitude Spectre Pression', rot=90)

# --- legendes LaTeX sous les figures
cap_rows = [(341,), (699,), (1057, 1091)]
for lines, ys in zip(captions, cap_rows):
    for cx in (294.5, 868):
        for s, y in zip(lines, ys):
            fig.text(cx / W, 1 - y / H, s, family=['cmr10'], size=20.9, ha='center',
                     va='center', color='black')

fig.savefig('out.png', dpi=100)
